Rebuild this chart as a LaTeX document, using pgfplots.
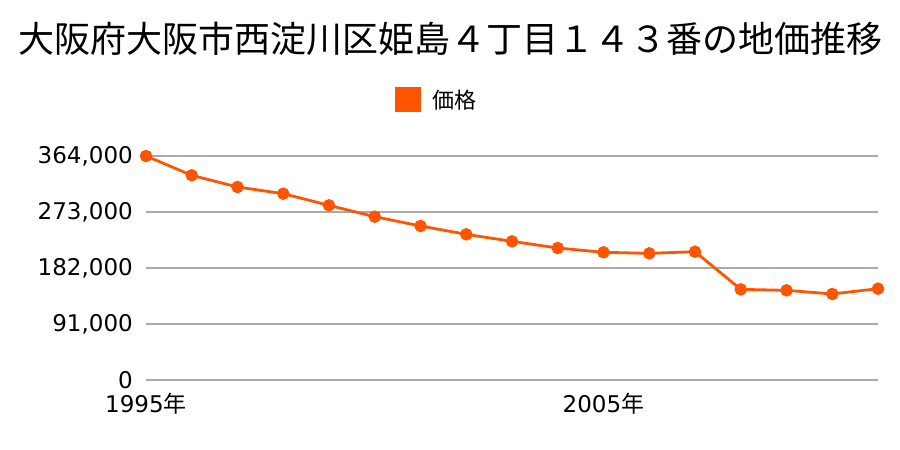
\documentclass[border=0pt]{standalone}
\usepackage{fontspec}
\setmainfont{DejaVu Sans}
\newfontfamily\jp{Noto Sans CJK JP}
\usepackage{pgfplots}
\pgfplotsset{compat=1.18}
\definecolor{lineorange}{RGB}{255,85,0}
\definecolor{gridgray}{RGB}{170,170,170}
\begin{document}
\begin{tikzpicture}[x=1pt,y=1pt]
\useasboundingbox (0,0) rectangle (900,450);
\node[font={\jp\fontsize{36}{40}\selectfont}, anchor=center] at (451,411) {大阪府大阪市西淀川区姫島４丁目１４３番の地価推移};
\begin{axis}[
  at={(146pt,70pt)}, anchor=south west,
  scale only axis, width=732pt, height=224pt,
  xmin=1995, xmax=2011, ymin=0, ymax=364000,
  axis line style={draw=none},
  major tick length=0pt,
  scaled y ticks=false,
  ytick={0,91000,182000,273000,364000},
  yticklabels={0,{91,000},{182,000},{273,000},{364,000}},
  xtick={1995,2005},
  xticklabels={1995{\jp 年},2005{\jp 年}},
  ymajorgrids, major grid style={gridgray, line width=1.2pt},
  /pgf/number format/assume math mode=true,
  tick label style={font=\fontsize{23}{25}\selectfont},
  yticklabel style={anchor=east, xshift=-13pt, inner sep=0pt},
  xticklabel style={anchor=north, yshift=-13pt, inner sep=0pt},
  clip=false,
  legend style={at={(0.3975,1.252)}, anchor=center, draw=none, fill=none,
    font={\jp\fontsize{22}{24}\selectfont}, inner sep=0pt},
  legend cell align=left,
  legend image code/.code={\fill[lineorange] (0pt,-11.5pt) rectangle (23pt,11.5pt); \path (33pt,0pt);},
]
\addplot[lineorange, line width=2.8pt, mark=*, mark size=4.8pt, mark options={fill=lineorange, draw=none}]
 coordinates {
 (1995,364000) (1996,332600) (1997,313600) (1998,302800) (1999,283800)
 (2000,265400) (2001,250300) (2002,236700) (2003,225300) (2004,214500)
 (2005,207500) (2006,205800) (2007,208500) (2008,147300) (2009,145700)
 (2010,139800) (2011,148400)
 };
\addlegendentry{価格}
\end{axis}
\end{tikzpicture}
\end{document}
